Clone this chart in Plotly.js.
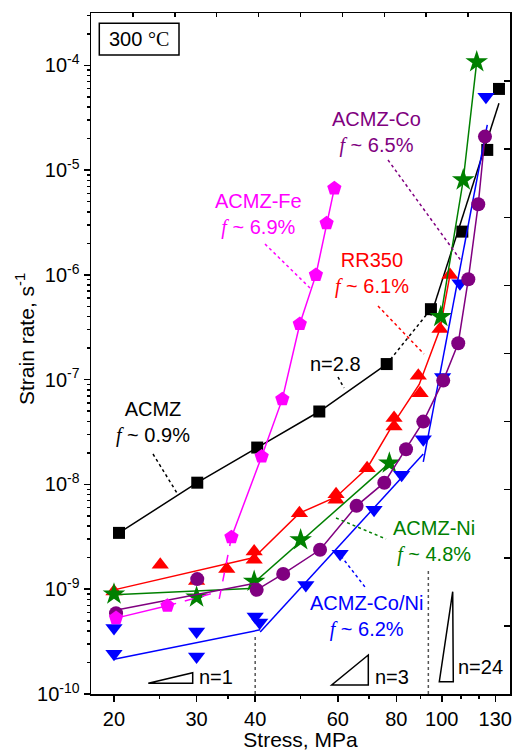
<!DOCTYPE html>
<html><head><meta charset="utf-8">
<script src="https://cdn.plot.ly/plotly-3.0.1.min.js"></script>
<style>html,body{margin:0;padding:0;background:#fff}#chart{width:514px;height:751px}</style>
</head><body><div id="chart"></div>
<script>
// ---------------- data (stress in MPa, strain rate in 1/s) ----------------
// ACMZ (f ~ 0.9%)
const acmzStress = [20.5, 30.1, 40.4, 54.8, 76.3, 94.8, 110.6, 125.0, 132.4];
const acmzRate   = [3.45e-9, 1.04e-8, 2.25e-8, 4.97e-8, 1.41e-7, 4.71e-7, 2.59e-6, 1.56e-5, 5.96e-5];
const acmzFitStress = [94.8, 132.4];
const acmzFitRate   = [4.1e-7, 4.35e-5];

// ACMZ-Fe (f ~ 6.9%)
const feStress = [20.2, 26.0, 35.6, 41.3, 45.7, 49.8, 53.9, 56.8, 59.0];
const feRate   = [5.3e-10, 6.95e-10, 3.14e-9, 1.85e-8, 6.52e-8, 3.40e-7, 1.0e-6, 3.11e-6, 6.71e-6];
const feLowExtStress = [26.0, 33.5];
const feLowExtRate   = [6.95e-10, 9.5e-10];
const feHighExtStress = [35.6, 33.4];
const feHighExtRate   = [3.14e-9, 7.4e-10];

// RR350 (f ~ 6.1%)
const rrStress = [20.0, 25.1, 30.0, 34.8, 39.8, 39.8, 49.7, 59.5, 59.5, 69.3, 79.1, 79.1, 89.9, 89.1, 99.1, 104.1];
const rrRate   = [9.5e-10, 1.71e-9, 1.2e-9, 1.56e-9, 2.29e-9, 1.91e-9, 5.32e-9, 8.07e-9, 7.13e-9, 1.43e-8, 4.3e-8, 3.57e-8, 7.43e-8, 1.09e-7, 3.05e-7, 1.0e-6];
const rrLowFitStress = [20, 40];
const rrLowFitRate   = [9.86e-10, 2.02e-9];
const rrLineStress = [40, 49.7, 59.5, 69.3, 79.1, 89.5, 99.1, 104.1];
const rrLineRate   = [2.05e-9, 5.32e-9, 7.6e-9, 1.43e-8, 3.9e-8, 9.0e-8, 3.05e-7, 1.0e-6];

// ACMZ-Ni (f ~ 4.8%)
const niStress = [20.0, 30.0, 39.8, 50.0, 77.3, 99.5, 111.1, 118.7];
const niRate   = [8.97e-10, 8.4e-10, 1.19e-9, 2.96e-9, 1.6e-8, 4.0e-7, 8.05e-6, 1.08e-4];
const niLowFitStress = [20, 40];
const niLowFitRate   = [8.85e-10, 1.02e-9];
const niMidFitStress = [39.5, 77.3];
const niMidFitRate   = [1.12e-9, 1.6e-8];

// ACMZ-Co (f ~ 6.5%)
const coStress = [20.2, 30.1, 40.3, 45.9, 55.0, 65.8, 75.4, 83.9, 91.3, 100.7, 108.4, 113.9, 119.6, 123.6];
const coRate   = [5.91e-10, 1.25e-9, 9.86e-10, 1.4e-9, 2.38e-9, 6.25e-9, 1.04e-8, 2.17e-8, 3.98e-8, 9.8e-8, 2.23e-7, 9.1e-7, 4.73e-6, 2.09e-5];
const coLowFitStress = [20, 40];
const coLowFitRate   = [6.27e-10, 1.14e-9];

// ACMZ-Co/Ni (f ~ 6.2%)
const conStress = [20.0, 20.0, 30.0, 30.0, 40.0, 40.9, 51.3, 60.7, 71.7, 82.1, 91.3, 100.4, 109.3, 124.2];
const conRate   = [4.26e-10, 2.42e-10, 3.95e-10, 2.28e-10, 5.5e-10, 4.81e-10, 1.1e-9, 2.18e-9, 5.73e-9, 1.24e-8, 2.7e-8, 1.06e-7, 8.33e-7, 5.02e-5];
const conLowFitStress = [20, 41];
const conLowFitRate   = [2.15e-10, 4.1e-10];
const conMidFitStress = [41, 91.3];
const conMidFitRate   = [3.9e-10, 1.95e-8];
const conHighFitStress = [91.3, 125.0];
const conHighFitRate   = [1.64e-8, 2.7e-5];

// regime boundaries (dotted verticals)
const bound1Stress = [40, 40];
const bound1Rate   = [1e-10, 3.6e-10];
const bound2Stress = [93.6, 93.6];
const bound2Rate   = [1e-10, 1.5e-9];

// axis ticks
const xTickVals = [20, 30, 40, 60, 80, 100, 130];
const xTickText = ['20', '30', '40', '60', '80', '100', '130'];
const xMinorVals = [25, 35, 50, 70, 90, 110, 120];
const yTickVals = [1e-10, 1e-9, 1e-8, 1e-7, 1e-6, 1e-5, 1e-4];
const yTickText = ['10<sup>-10</sup>', '10<sup>-9</sup>', '10<sup>-8</sup>', '10<sup>-7</sup>', '10<sup>-6</sup>', '10<sup>-5</sup>', '10<sup>-4</sup>'];

// ---------------- styling ----------------
const FONT = 'Arial, "Liberation Sans", sans-serif';
const C = {black:'#000000', fe:'#FF00FF', rr:'#FF0000', ni:'#008000', co:'#800080', con:'#0000FF'};

const yMinorVals = [];
for (let e = -10; e <= -4; e++) for (let m = 2; m <= 9; m++) yMinorVals.push(m * Math.pow(10, e));

function lineT(x, y, color, dash) {
  return {x: x, y: y, mode: 'lines', line: {color: color, width: 1.5, dash: dash || 'solid'}, hoverinfo: 'skip', showlegend: false};
}
function markT(x, y, symbol, color, size) {
  return {x: x, y: y, mode: 'markers', marker: {symbol: symbol, color: color, size: size, line: {width: 0}}, showlegend: false};
}

const traces = [
  // ACMZ
  lineT(acmzStress.slice(0, 5), acmzRate.slice(0, 5), C.black),
  lineT(acmzStress.slice(4, 6), acmzRate.slice(4, 6), C.black, 'dot'),
  lineT(acmzFitStress, acmzFitRate, C.black),
  markT(acmzStress, acmzRate, 'square', C.black, 12),
  // RR350
  lineT(rrLowFitStress, rrLowFitRate, C.rr),
  lineT(rrLineStress, rrLineRate, C.rr),
  markT(rrStress, rrRate, 'triangle-up', C.rr, 15),
  // ACMZ-Ni
  lineT(niLowFitStress, niLowFitRate, C.ni),
  lineT(niMidFitStress, niMidFitRate, C.ni),
  lineT(niStress.slice(5), niRate.slice(5), C.ni),
  markT(niStress, niRate, 'star', C.ni, 17),
  // ACMZ-Co/Ni
  lineT(conLowFitStress, conLowFitRate, C.con),
  lineT(conMidFitStress, conMidFitRate, C.con),
  lineT(conHighFitStress, conHighFitRate, C.con),
  markT(conStress, conRate, 'triangle-down', C.con, 15),
  // ACMZ-Co
  lineT(coLowFitStress, coLowFitRate, C.co),
  lineT(coStress.slice(2), coRate.slice(2), C.co),
  markT(coStress, coRate, 'circle', C.co, 14),
  // ACMZ-Fe
  lineT(feStress.slice(0, 2), feRate.slice(0, 2), C.fe),
  lineT(feLowExtStress, feLowExtRate, C.fe, 'dash'),
  lineT(feStress.slice(2), feRate.slice(2), C.fe),
  lineT(feHighExtStress, feHighExtRate, C.fe, 'dash'),
  markT(feStress, feRate, 'pentagon', C.fe, 15),
  // boundaries
  lineT(bound1Stress, bound1Rate, '#555555', 'dot'),
  lineT(bound2Stress, bound2Rate, '#555555', 'dot'),
  // dummy trace for the top/right tick frame
  {x: [null], y: [null], xaxis: 'x2', yaxis: 'y2', mode: 'markers', showlegend: false, hoverinfo: 'skip'}
];

// pixel -> paper helpers for decorations
const L = 91, R = 510, T = 13, B = 694;
const px = x => (x - L) / (R - L);
const py = y => (B - y) / (B - T);

const ITAL = '<span style="font-family:Liberation Serif, Times New Roman, serif;font-style:italic">f</span>';
function label(x, y, text, color, size) {
  return {xref: 'paper', yref: 'paper', x: px(x), y: py(y), text: text, showarrow: false,
          xanchor: 'center', yanchor: 'middle', align: 'center',
          font: {family: FONT, size: size || 20, color: color}};
}
const yTitle = label(25, 339, 'Strain rate, s<sup>-1</sup>', C.black, 21);
yTitle.textangle = -90;
const annotations = [
  label(153, 422, 'ACMZ<br>' + ITAL + ' ~ 0.9%', C.black),
  label(258, 214.5, 'ACMZ-Fe<br>' + ITAL + ' ~ 6.9%', C.fe),
  label(372, 273, 'RR350<br>' + ITAL + ' ~ 6.1%', C.rr),
  label(376, 132.5, 'ACMZ-Co<br>' + ITAL + ' ~ 6.5%', C.co),
  label(434, 541, 'ACMZ-Ni<br>' + ITAL + ' ~ 4.8%', C.ni),
  label(366, 616, 'ACMZ-Co/Ni<br>' + ITAL + ' ~ 6.2%', C.con),
  label(335, 364, 'n=2.8', C.black),
  label(216, 677, 'n=1', C.black),
  label(392, 677, 'n=3', C.black),
  label(480, 667, 'n=24', C.black),
  label(139, 39, '300 <span style="font-family:Liberation Serif, Times New Roman, serif">°C</span>', C.black),
  yTitle
];

function dotted(x0, y0, x1, y1, color) {
  return {type: 'line', xref: 'paper', yref: 'paper', x0: px(x0), y0: py(y0), x1: px(x1), y1: py(y1),
          line: {color: color, width: 1.5, dash: 'dot'}};
}
function tri(pts) {
  const d = 'M ' + pts.map(p => px(p[0]) + ',' + py(p[1])).join(' L ') + ' Z';
  return {type: 'path', xref: 'paper', yref: 'paper', path: d, line: {color: '#000', width: 1.5}, fillcolor: 'rgba(0,0,0,0)'};
}
const shapes = [
  dotted(153, 454, 177, 493, C.black),
  dotted(338, 377, 344, 388, C.black),
  dotted(265, 244, 310, 288, C.fe),
  dotted(388, 160, 462, 262, C.co),
  dotted(378, 306, 424, 354, C.rr),
  dotted(336, 518, 386, 539, C.ni),
  dotted(341, 556, 365, 587, C.con),
  tri([[148.3, 683.3], [192.7, 683.3], [192.7, 672.7]]),
  tri([[331.7, 685], [368.3, 685], [368.3, 655]]),
  tri([[439.3, 681.7], [453.3, 681.7], [452.7, 591.7]]),
  {type: 'rect', xref: 'paper', yref: 'paper', x0: px(99.3), y0: py(55), x1: px(179), y1: py(23.3),
   line: {color: '#000', width: 1.5}, fillcolor: 'rgba(0,0,0,0)'}
];

const axCommon = {showgrid: false, zeroline: false, showline: true, linecolor: '#000', linewidth: 1.5,
                  mirror: true, ticks: 'outside', tickcolor: '#000', tickwidth: 1.5,
                  tickfont: {family: FONT, size: 20, color: '#000'}};

const layout = {
  width: 514, height: 751,
  margin: {l: L, r: 514 - R, t: T, b: 751 - B, pad: 0},
  paper_bgcolor: '#fff', plot_bgcolor: '#fff',
  showlegend: false,
  font: {family: FONT, color: '#000'},
  xaxis: Object.assign({}, axCommon, {
    type: 'log', range: [1.2520, 2.1454], tickmode: 'array', tickvals: xTickVals, ticktext: xTickText, ticklen: 6,
    minor: {tickmode: 'array', tickvals: xMinorVals, ticks: 'outside', ticklen: 3, tickwidth: 1.5, tickcolor: '#000', showgrid: false},
    title: {text: 'Stress, MPa', font: {family: FONT, size: 21, color: '#000'}, standoff: 4}
  }),
  yaxis: Object.assign({}, axCommon, {
    type: 'log', range: [-10, -3.5], tickmode: 'array', tickvals: yTickVals, ticktext: yTickText, ticklen: 6,
    minor: {tickmode: 'array', tickvals: yMinorVals, ticks: 'outside', ticklen: 3, tickwidth: 1.5, tickcolor: '#000', showgrid: false}
  }),
  xaxis2: {overlaying: 'x', side: 'top', anchor: 'y2', range: [0, 10], tickmode: 'linear', tick0: 0, dtick: 1,
           ticks: 'inside', ticklen: 4, tickwidth: 1.5, tickcolor: '#000', showticklabels: false,
           showline: false, showgrid: false, zeroline: false, fixedrange: true},
  yaxis2: {overlaying: 'y', side: 'right', anchor: 'x2', range: [0, 10], tickmode: 'linear', tick0: 0, dtick: 1,
           ticks: 'inside', ticklen: 6, tickwidth: 1.5, tickcolor: '#000', showticklabels: false,
           showline: false, showgrid: false, zeroline: false, fixedrange: true},
  annotations: annotations,
  shapes: shapes
};

Plotly.newPlot('chart', traces, layout, {staticPlot: true, displayModeBar: false});
</script>
</body></html>
